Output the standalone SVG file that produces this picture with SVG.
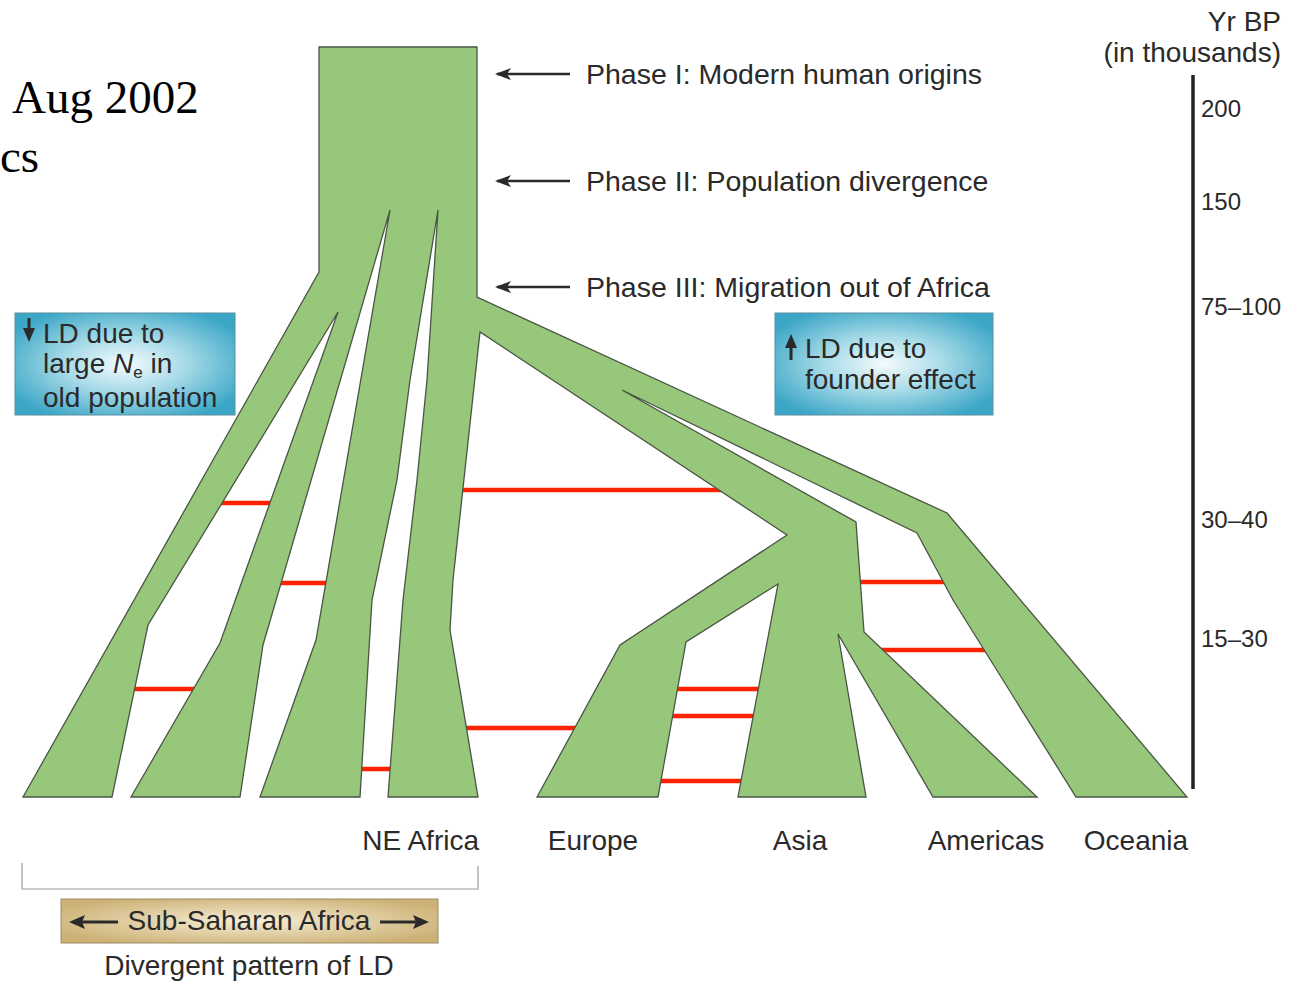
<svg xmlns="http://www.w3.org/2000/svg" width="1293" height="981" viewBox="0 0 1293 981">
<defs>
<style>
.t{font-family:"Liberation Sans",Arial,sans-serif;fill:#2a2a2a;font-size:28px}
.ph{font-size:28.5px}
.tick{font-family:"Liberation Sans",Arial,sans-serif;fill:#2a2a2a;font-size:24px}
.serif{font-family:"Liberation Serif","Times New Roman",serif;fill:#000;font-size:47px}
.red{stroke:#ff2200;stroke-width:4.5;fill:none}
.arr{stroke:#2a2a2a;stroke-width:2.5;fill:none}
.tree{fill:#97c77a;stroke:#4a5544;stroke-width:1.3;stroke-linejoin:miter}
</style>
<radialGradient id="blue" cx="50%" cy="50%" r="60%">
<stop offset="0" stop-color="#f4fbfd"/>
<stop offset="0.45" stop-color="#a8dbe8"/>
<stop offset="1" stop-color="#3ba6c6"/>
</radialGradient>
<radialGradient id="tan" cx="50%" cy="50%" r="60%">
<stop offset="0" stop-color="#f6eed6"/>
<stop offset="1" stop-color="#ccb074"/>
</radialGradient>
<marker id="ah" viewBox="0 -6 16 12" refX="14" refY="0" markerWidth="16" markerHeight="12" markerUnits="userSpaceOnUse" orient="auto">
<path d="M16,0 L0,-6 L4,0 L0,6 Z" fill="#2a2a2a"/>
</marker>
</defs>
<rect width="1293" height="981" fill="#fff"/>

<g id="title-text">
<text class="serif" x="12" y="113">Aug 2002</text>
<text class="serif" x="0" y="172">cs</text>
</g>

<g id="connectors">
<line class="red" x1="215" y1="503" x2="276" y2="503"/>
<line class="red" x1="278" y1="583" x2="330" y2="583"/>
<line class="red" x1="130" y1="689" x2="197" y2="689"/>
<line class="red" x1="358" y1="769" x2="394" y2="769"/>
<line class="red" x1="460" y1="490" x2="727" y2="490"/>
<line class="red" x1="462" y1="728" x2="579" y2="728"/>
<line class="red" x1="674" y1="689" x2="762" y2="689"/>
<line class="red" x1="669" y1="716" x2="757" y2="716"/>
<line class="red" x1="657" y1="781" x2="745" y2="781"/>
<line class="red" x1="856" y1="582" x2="948" y2="582"/>
<line class="red" x1="879" y1="650" x2="988" y2="650"/>
<line class="arr" x1="570" y1="74" x2="497" y2="74" marker-end="url(#ah)"/>
<line class="arr" x1="570" y1="181" x2="497" y2="181" marker-end="url(#ah)"/>
<line class="arr" x1="570" y1="287" x2="497" y2="287" marker-end="url(#ah)"/>
</g>

<g id="tree">
<path class="tree" d="M319,47 L477,47 L477,297 L947,513 L1187,797 L1076,797 L953,600 L917,533 L622,390 L856,522 L864,632 L1037,797 L933,797 L838,634 L866,797 L738,797 L778,584 L686,642 L658,797 L537,797 L620,645 L787,535 L480,332 L453,580 L450,630 L478,797 L388,797 L403,600 L417,480 L427,380 L438,210 L410,380 L397,480 L372,600 L360,797 L260,797 L316,640 L390,210 L263,645 L240,797 L131,797 L220,643 L338,312 L148,625 L112,797 L23,797 L319,272 Z"/>
</g>

<g id="phase-labels">
<text class="t ph" x="586" y="84">Phase I: Modern human origins</text>
<text class="t ph" x="586" y="191">Phase II: Population divergence</text>
<text class="t ph" x="586" y="297">Phase III: Migration out of Africa</text>
</g>

<g id="box-left">
<rect x="15" y="313" width="220" height="102" fill="url(#blue)" stroke="#5b8ea0" stroke-width="1"/>
<line x1="29" y1="318" x2="29" y2="330" stroke="#2a2a2a" stroke-width="3"/>
<path d="M23,328 L35,328 L29,342 Z" fill="#2a2a2a"/>
<text class="t" x="43" y="343">LD due to</text>
<text class="t" x="43" y="373">large <tspan font-style="italic">N</tspan><tspan font-size="17" dy="5">e</tspan><tspan dy="-5"> in</tspan></text>
<text class="t" x="43" y="407">old population</text>
</g>

<g id="box-right">
<rect x="775" y="313" width="218" height="102" fill="url(#blue)" stroke="#5b8ea0" stroke-width="1"/>
<line x1="791" y1="360" x2="791" y2="346" stroke="#2a2a2a" stroke-width="3"/>
<path d="M785,348 L797,348 L791,334 Z" fill="#2a2a2a"/>
<text class="t" x="805" y="358">LD due to</text>
<text class="t" x="805" y="389">founder effect</text>
</g>

<g id="axis">
<line x1="1193" y1="75" x2="1193" y2="789" stroke="#222" stroke-width="3.5"/>
<text class="t" x="1281" y="31" text-anchor="end" font-size="26">Yr BP</text>
<text class="t" x="1281" y="62" text-anchor="end" font-size="26">(in thousands)</text>
<text class="tick" x="1201" y="117">200</text>
<text class="tick" x="1201" y="210">150</text>
<text class="tick" x="1201" y="315">75–100</text>
<text class="tick" x="1201" y="528">30–40</text>
<text class="tick" x="1201" y="647">15–30</text>
</g>

<g id="pop-labels">
<text class="t" x="479" y="850" text-anchor="end">NE Africa</text>
<text class="t" x="593" y="850" text-anchor="middle">Europe</text>
<text class="t" x="800" y="850" text-anchor="middle">Asia</text>
<text class="t" x="986" y="850" text-anchor="middle">Americas</text>
<text class="t" x="1136" y="850" text-anchor="middle">Oceania</text>
</g>

<g id="bracket">
<path d="M22,863 L22,889 L478,889 L478,866" fill="none" stroke="#9a9a9a" stroke-width="1.2"/>
</g>

<g id="sub-saharan">
<rect x="61" y="899" width="377" height="44" fill="url(#tan)" stroke="#9c8c68" stroke-width="1"/>
<line x1="118" y1="922" x2="82" y2="922" stroke="#2a2a2a" stroke-width="3"/>
<path d="M69,922 L85,915 L82,922 L85,929 Z" fill="#2a2a2a"/>
<line x1="380" y1="922" x2="416" y2="922" stroke="#2a2a2a" stroke-width="3"/>
<path d="M429,922 L413,915 L416,922 L413,929 Z" fill="#2a2a2a"/>
<text class="t" x="249" y="930" text-anchor="middle">Sub-Saharan Africa</text>
<text class="t" x="249" y="975" text-anchor="middle">Divergent pattern of LD</text>
</g>
</svg>
